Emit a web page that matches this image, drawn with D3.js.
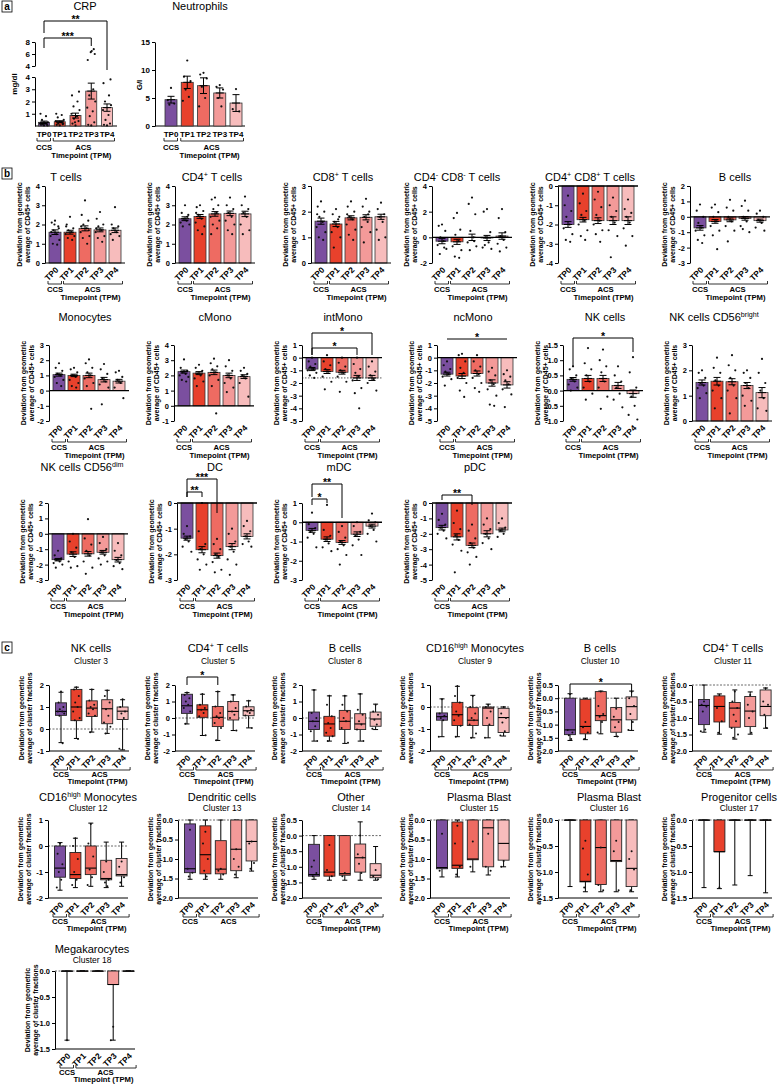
<!DOCTYPE html>
<html>
<head>
<meta charset="utf-8">
<script src="https://cdn.jsdelivr.net/npm/d3@7"></script>
<style>
body { margin: 0; background: #fff; }
svg { display: block; font-family: "Liberation Sans", Arial, sans-serif; }
</style>
</head>
<body>
<svg id="fig" width="783" height="1086"></svg>
<script>
// groups and colours
const groups = ["TP0", "TP1", "TP2", "TP3", "TP4"];
const fills = ["#7b4f9f", "#e8412c", "#ee6b62", "#f39a99", "#f7bcbc"];

// ---------- panel a ----------
const crpMean = [0.3, 0.35, 0.85, 2.85, 1.5];
const crpSem = [0.1, 0.08, 0.2, 0.65, 0.3];
const crpDots = [
  [0.05, 0.1, 0.1, 0.15, 0.2, 0.2, 0.3, 0.5, 0.8, 1.0, 0.05, 0.1],
  [0.05, 0.1, 0.15, 0.2, 0.3, 0.4, 0.5, 0.7, 0.9, 1.0, 0.2],
  [0.05, 0.2, 0.4, 0.6, 0.8, 1.0, 1.3, 1.6, 2.0, 2.5, 2.8, 0.3],
  [0.05, 0.1, 0.3, 0.8, 1.2, 1.5, 2.0, 2.5, 3.0, 5.0, 6.0, 6.3, 6.5, 6.8],
  [0.05, 0.1, 0.2, 0.5, 0.9, 1.3, 1.7, 2.0, 2.5, 3.5, 3.8]
];
const neuMean = [4.7, 7.8, 7.2, 5.9, 4.1];
const neuSem = [0.6, 1.1, 1.4, 0.9, 1.5];
const neuDots = [
  [6.8, 4.6, 4.0, 3.8],
  [11.7, 8.8, 8.0, 6.5, 5.2, 4.5],
  [9.5, 9.2, 8.5, 7.0, 5.0, 3.5],
  [7.3, 7.0, 6.5, 5.0, 3.5],
  [6.6, 3.0, 2.6]
];

// ---------- panel b ----------
const bTitles = ["T cells", "CD4^+^ T cells", "CD8^+^ T cells", "CD4^-^ CD8^-^ T cells", "CD4^+^ CD8^+^ T cells", "B cells",
  "Monocytes", "cMono", "intMono", "ncMono", "NK cells", "NK cells CD56^bright^",
  "NK cells CD56^dim^", "DC", "mDC", "pDC"];
const bDomains = [[0, 4], [0, 4], [0, 3], [-2, 4], [-4, 0], [-3, 2], [-2, 3], [-1, 4], [-5, 1], [-5, 1], [-1, 1.5], [0, 3], [-3, 2], [-3, 0], [-3, 1], [-5, 0]];
const bTicks = [[0, 1, 2, 3, 4], [0, 1, 2, 3, 4], [0, 1, 2, 3], [-2, 0, 2, 4], [-4, -3, -2, -1, 0], [-3, -2, -1, 0, 1, 2],
  [-2, -1, 0, 1, 2, 3], [-1, 0, 1, 2, 3, 4], [-5, -4, -3, -2, -1, 0, 1], [-5, -4, -3, -2, -1, 0, 1], [-1, -0.5, 0, 0.5, 1, 1.5], [0, 1, 2, 3],
  [-3, -2, -1, 0, 1, 2], [-3, -2, -1, 0], [-3, -2, -1, 0, 1], [-5, -4, -3, -2, -1, 0]];
const bDec = [0, 0, 0, 0, 0, 0, 0, 0, 0, 0, 1, 0, 0, 0, 0, 0];
const bMeans = [
  [1.6, 1.6, 1.8, 1.72, 1.7], [2.3, 2.42, 2.55, 2.58, 2.55], [1.63, 1.52, 1.76, 1.78, 1.8],
  [-0.3, -0.35, 0.0, -0.05, 0.1], [-2.0, -1.75, -1.8, -1.8, -1.8], [-0.72, -0.3, -0.2, -0.1, -0.25],
  [1.05, 1.0, 1.0, 0.72, 0.62], [2.25, 2.15, 2.2, 2.0, 1.92], [-0.9, -1.1, -1.15, -1.6, -1.6],
  [-1.3, -1.45, -1.25, -2.0, -2.15], [0.37, 0.4, 0.4, 0.17, -0.1], [1.52, 1.57, 1.55, 1.4, 1.12],
  [-1.68, -1.32, -1.3, -1.2, -1.68], [-1.37, -1.82, -2.05, -1.7, -1.3], [-0.42, -0.88, -1.05, -0.62, -0.2], [-1.6, -2.2, -2.75, -2.0, -1.75]
];
const bSems = [
  [0.12, 0.1, 0.13, 0.1, 0.12], [0.1, 0.1, 0.12, 0.12, 0.14], [0.12, 0.1, 0.08, 0.1, 0.1],
  [0.2, 0.2, 0.25, 0.2, 0.25], [0.15, 0.12, 0.15, 0.2, 0.2], [0.15, 0.12, 0.12, 0.12, 0.1],
  [0.1, 0.08, 0.15, 0.15, 0.12], [0.1, 0.1, 0.15, 0.15, 0.12], [0.12, 0.15, 0.15, 0.2, 0.2],
  [0.15, 0.2, 0.2, 0.25, 0.25], [0.06, 0.1, 0.1, 0.1, 0.12], [0.1, 0.15, 0.12, 0.12, 0.2],
  [0.08, 0.15, 0.15, 0.12, 0.15], [0.08, 0.12, 0.1, 0.12, 0.1], [0.1, 0.12, 0.1, 0.12, 0.1], [0.15, 0.2, 0.15, 0.2, 0.12]
];
const bDots = [
  [[2.2, 2.1, 1.9, 1.7, 1.5, 1.4, 1.2, 1.0, 0.95, 1.6, 1.8, 2.0], [2.4, 2.0, 1.8, 1.7, 1.6, 1.5, 1.4, 1.3, 1.2, 1.9], [3.25, 2.5, 2.2, 2.0, 1.8, 1.6, 1.4, 1.3, 1.0, 1.9, 1.7], [2.65, 2.3, 2.0, 1.9, 1.7, 1.6, 1.4, 1.3, 1.1, 1.8], [2.9, 2.0, 1.9, 1.8, 1.6, 1.5, 1.4, 1.2]],
  [[3.0, 2.6, 2.5, 2.3, 2.2, 2.1, 2.0, 1.9, 2.4], [3.0, 2.9, 2.7, 2.5, 2.3, 2.1, 1.9, 1.7, 1.5, 2.6], [3.4, 3.3, 3.0, 2.8, 2.6, 2.4, 2.2, 2.0, 1.8, 1.5], [3.4, 3.0, 2.8, 2.6, 2.4, 2.2, 2.0, 1.7, 1.5], [3.45, 3.0, 2.8, 2.6, 2.4, 2.0, 1.7, 1.5]],
  [[2.4, 2.2, 2.0, 1.8, 1.6, 1.4, 1.2, 1.0, 0.9, 1.9], [2.1, 1.9, 1.8, 1.6, 1.4, 1.2, 1.0, 0.6, 1.7], [2.4, 2.2, 2.0, 1.8, 1.7, 1.5, 1.3, 1.1, 0.9, 1.9], [2.5, 2.2, 2.0, 1.8, 1.6, 1.4, 1.2, 0.8, 1.9], [2.35, 2.1, 1.9, 1.8, 1.6, 1.3, 1.0, 0.9]],
  [[1.0, 0.9, 0.5, 0.0, -0.3, -0.6, -0.9, -1.3, -0.8], [1.9, 1.5, 0.6, 0.2, -0.3, -0.7, -1.0, -1.5, -1.6], [3.1, 2.6, 1.8, 0.5, 0.0, -0.4, -0.7, -1.0, -0.3], [2.2, 2.0, 0.4, 0.0, -0.4, -0.8, -0.9, -0.6], [2.2, 1.5, 0.4, 0.1, -0.2, -0.5, -0.8, -1.1]],
  [[-0.5, -1.0, -1.3, -1.6, -2.0, -2.2, -2.5, -2.8, -2.9], [-0.4, -0.9, -1.3, -1.5, -1.8, -2.0, -2.3, -2.6, -2.8], [-0.3, -0.7, -1.1, -1.5, -1.8, -2.0, -2.3, -2.5, -2.9], [-0.6, -1.0, -1.3, -1.6, -1.9, -2.3, -2.6, -3.7], [-0.7, -1.2, -1.4, -1.6, -1.9, -2.2, -2.6, -3.1]],
  [[0.8, 0.4, 0.0, -0.4, -0.7, -0.9, -1.2, -1.5, -1.7], [0.8, 0.6, 0.3, 0.0, -0.3, -0.6, -0.9, -1.2, -2.1], [1.1, 0.6, 0.4, 0.0, -0.3, -0.6, -0.9, -1.6], [1.05, 0.7, 0.4, 0.0, -0.3, -0.6, -1.0, -0.8], [0.4, 0.2, 0.0, -0.2, -0.4, -0.7, -0.9]],
  [[1.8, 1.5, 1.3, 1.1, 1.0, 0.9, 0.7, 0.5, 0.3], [1.5, 1.4, 1.2, 1.0, 0.9, 0.7, 0.5, 0.3, 0.2], [2.05, 1.8, 1.5, 1.2, 1.0, 0.8, 0.5, 0.3, -1.2], [1.75, 1.4, 1.1, 0.8, 0.6, 0.4, 0.2, -0.9], [1.3, 1.2, 0.9, 0.7, 0.5, 0.2, -0.5]],
  [[3.05, 2.5, 2.3, 2.2, 2.1, 2.0, 1.9, 1.7, 1.6], [2.7, 2.5, 2.3, 2.1, 2.0, 1.8, 1.6, 1.3], [3.1, 2.8, 2.6, 2.4, 2.2, 2.0, 1.7, 1.3, -0.5], [3.0, 2.6, 2.3, 2.0, 1.8, 1.5, 1.2, 0.9], [2.5, 2.3, 2.1, 2.0, 1.8, 1.5, 0.6]],
  [[0.0, -0.3, -0.5, -0.7, -0.9, -1.0, -1.2, -1.4, -1.6], [0.2, -0.3, -0.6, -0.9, -1.1, -1.5, -1.9, -2.5], [0.0, -0.4, -0.7, -1.0, -1.2, -1.5, -1.9, -2.7], [0.0, -0.5, -0.9, -1.2, -1.5, -1.8, -2.4, -2.8, -4.0], [-0.3, -0.7, -1.1, -1.4, -1.7, -2.0, -2.6]],
  [[-0.3, -0.6, -0.9, -1.1, -1.3, -1.5, -1.7, -2.2], [0.3, 0.2, -0.3, -0.8, -1.2, -1.6, -2.0, -2.6, -3.1], [0.2, -0.3, -0.7, -1.0, -1.3, -1.6, -2.0, -2.4, -2.7], [-0.8, -1.1, -1.4, -1.8, -2.1, -2.5, -3.0, -3.7, -3.8], [-1.0, -1.3, -1.5, -1.8, -2.1, -2.5, -2.9, -3.9]],
  [[0.8, 0.7, 0.5, 0.4, 0.3, 0.2, 0.1, 0.0], [1.4, 0.9, 0.7, 0.5, 0.3, 0.1, -0.1, -0.3], [1.35, 1.0, 0.8, 0.6, 0.3, 0.1, -0.2, -0.6], [0.8, 0.5, 0.3, 0.1, -0.1, -0.3, -0.55], [1.1, 0.6, 0.1, -0.2, -0.5, -0.8, -0.95]],
  [[2.0, 1.9, 1.7, 1.5, 1.4, 1.3, 1.1, 0.9], [2.5, 2.1, 1.9, 1.6, 1.4, 1.2, 0.9, 0.5], [2.6, 2.2, 2.0, 1.7, 1.4, 1.2, 0.9, 0.3], [2.0, 1.9, 1.7, 1.5, 1.3, 1.0, 0.8, 0.6], [2.45, 1.9, 1.5, 1.2, 0.9, 0.5, 0.4]],
  [[-1.1, -1.4, -1.6, -1.7, -1.8, -1.9, -2.0, -2.2], [0.0, -0.5, -0.9, -1.2, -1.5, -1.8, -2.1, -2.2], [0.95, -0.3, -0.7, -1.1, -1.4, -1.8, -2.2, -2.6], [-0.2, -0.6, -1.0, -1.2, -1.4, -1.6, -1.8, -2.0], [-0.6, -1.1, -1.4, -1.7, -1.9, -2.1, -2.3]],
  [[-0.9, -1.2, -1.3, -1.4, -1.5, -1.7, -1.9], [0.0, -1.1, -1.6, -1.8, -2.0, -2.2, -2.4, -2.6], [-1.4, -1.6, -1.8, -2.0, -2.1, -2.3, -2.6, -2.7], [-1.0, -1.2, -1.5, -1.7, -1.9, -2.2, -2.4, -2.8], [-0.7, -0.9, -1.1, -1.3, -1.5, -1.6, -1.7]],
  [[0.5, -0.1, -0.3, -0.5, -0.6, -0.8, -1.3], [0.9, -0.4, -0.7, -0.9, -1.1, -1.3, -1.5], [-0.2, -0.5, -0.8, -1.0, -1.2, -1.4, -1.7, -2.2], [0.0, -0.2, -0.5, -0.7, -0.9, -1.2, -1.7], [0.45, 0.1, 0.0, -0.2, -0.4, -0.6, -1.0]],
  [[-0.7, -1.1, -1.4, -1.6, -1.8, -2.0, -2.3], [-0.5, -1.3, -1.7, -2.1, -2.4, -2.7, -3.1, -4.5], [-1.4, -1.8, -2.3, -2.6, -2.9, -3.2, -3.5, -4.0], [-1.0, -1.4, -1.7, -2.0, -2.3, -2.6, -3.0], [-1.0, -1.3, -1.6, -1.8, -2.0, -2.2]]
];
// dotted reference line (intMono)
const bRefPanel = [8];
const bRefValue = [-1.6];

// ---------- panel c ----------
const cTitles = ["NK cells", "CD4^+^ T cells", "B cells", "CD16^high^ Monocytes", "B cells", "CD4^+^ T cells",
  "CD16^high^ Monocytes", "Dendritic cells", "Other", "Plasma Blast", "Plasma Blast", "Progenitor cells", "Megakarocytes"];
const cClusters = ["Cluster 3", "Cluster 5", "Cluster 8", "Cluster 9", "Cluster 10", "Cluster 11",
  "Cluster 12", "Cluster 13", "Cluster 14", "Cluster 15", "Cluster 16", "Cluster 17", "Cluster 18"];
const cDomains = [[-1, 2], [-2, 2], [-2, 2], [-2, 1], [-2, 0.5], [-2, 0], [-2, 1], [-2, 0], [-2, 0.5], [-2, 0], [-1.5, 0], [-1.5, 0], [-1.5, 0]];
const cTicks = [[-1, 0, 1, 2], [-2, -1, 0, 1, 2], [-2, -1, 0, 1, 2], [-2, -1, 0, 1], [-2, -1.5, -1, -0.5, 0, 0.5], [-2, -1.5, -1, -0.5, 0],
  [-2, -1, 0, 1], [-2, -1.5, -1, -0.5, 0], [-2, -1.5, -1, -0.5, 0, 0.5], [-2, -1.5, -1, -0.5, 0], [-1.5, -1, -0.5, 0], [-1.5, -1, -0.5, 0], [-1.5, -1, -0.5, 0]];
const cDec = [0, 0, 0, 0, 1, 1, 0, 1, 1, 1, 1, 1, 1];
// per group: [min, q1, median, q3, max]
const cBoxes = [
  [[-0.62, 0.62, 0.8, 1.19, 1.67], [-0.43, 0.38, 1.0, 1.8, 1.9], [-0.14, 0.57, 0.95, 1.28, 1.8], [-0.2, 0.24, 0.92, 1.33, 1.76], [-0.95, 0.43, 0.81, 1.0, 1.33]],
  [[-0.36, 0.28, 0.74, 1.44, 1.54], [-1.06, 0.04, 0.5, 0.8, 1.44], [-1.36, -0.52, 0.04, 0.7, 1.6], [-0.76, -0.12, 0.4, 1.0, 1.4], [-0.6, 0.14, 0.44, 0.68, 1.04]],
  [[-1.4, -0.7, -0.2, 0.36, 1.7], [-1.4, -1.1, -0.36, 0.1, 1.34], [-1.54, -0.7, -0.2, 0.46, 1.34], [-1.4, -0.7, -0.36, 0.26, 1.46], [-0.7, -0.5, -0.06, 0.36, 0.84]],
  [[-1.35, -0.6, -0.44, -0.27, 0.37], [-1.35, -0.84, -0.35, 0.21, 0.94], [-1.4, -0.84, -0.6, -0.03, 0.53], [-1.4, -0.84, -0.05, 0.0, 0.13], [-1.32, -1.16, -0.48, -0.06, 0.0]],
  [[-1.6, -1.38, -1.2, 0.0, 0.17], [-1.57, -1.35, -1.07, -0.04, 0.0], [-1.35, -0.85, -0.66, 0.25, 0.27], [-1.45, -1.29, -0.82, -0.35, 0.0], [-1.22, -0.82, -0.32, 0.05, 0.27]],
  [[-1.43, -1.2, -0.62, -0.44, 0.0], [-1.49, -1.12, -0.65, -0.33, -0.27], [-1.64, -1.28, -0.7, -0.53, -0.15], [-1.49, -1.26, -0.79, -0.35, -0.21], [-1.31, -0.93, -0.65, -0.15, -0.09]],
  [[-1.7, -1.2, -0.85, 0.0, 0.13], [-1.6, -1.25, -1.1, -0.25, 0.3], [-1.55, -1.1, -0.85, 0.0, 0.88], [-1.6, -1.3, -1.25, -0.55, 0.15], [-1.55, -1.15, -1.1, -0.48, 0.15]],
  [[-1.52, -1.35, -1.25, -0.1, 0.0], [-1.52, -1.38, -0.89, -0.15, 0.0], [-1.52, -1.38, -1.26, -0.53, 0.0], [-1.48, -1.3, -0.75, 0.0, 0.0], [-1.31, -1.05, -0.55, 0.0, 0.0]],
  [[-1.4, -1.3, -1.25, -0.28, 0.0], [-1.43, -1.3, -1.17, 0.0, 0.0], [-1.43, -1.27, -1.22, 0.0, 0.0], [-1.43, -1.17, -0.71, -0.27, 0.44], [-1.43, -1.35, -1.27, -0.9, -0.35]],
  [[-1.46, -1.25, -1.22, 0.0, 0.0], [-1.46, -1.24, -1.16, -0.05, 0.0], [-1.33, -1.02, -1.0, 0.0, 0.0], [-1.41, -1.2, -0.2, 0.0, 0.0], [-1.2, -1.03, -0.6, 0.0, 0.0]],
  [[-1.28, 0, 0, 0, 0], [-1.38, -1.19, -1.18, 0, 0], [-1.38, -1.24, -0.53, 0, 0], [-1.38, -0.8, -0.78, 0, 0], [-1.38, -1.28, -0.93, 0, 0]],
  [[-1.3, 0, 0, 0, 0], [-1.32, -0.61, -0.61, 0, 0], [-1.25, 0, 0, 0, 0], [-1.07, 0, 0, 0, 0], [-1.4, 0, 0, 0, 0]],
  [[-1.33, 0, 0, 0, 0], [0, 0, 0, 0, 0], [0, 0, 0, 0, 0], [-1.33, -0.26, -0.26, 0, 0], [0, 0, 0, 0, 0]]
];
const cDots = [
  [[1.7, 1.2, 1.0, 0.9, 0.8, 0.8, 0.7, 0.6, -0.65], [1.9, 1.8, 1.5, 1.2, 1.0, 0.8, 0.5, 0.4, -0.45], [1.8, 1.3, 1.1, 1.0, 0.9, 0.7, 0.6, -0.15], [1.75, 1.5, 1.2, 0.9, 0.6, 0.3, 0.1, -0.2], [1.35, 1.0, 0.8, 0.7, 0.5, -0.9]],
  [[1.55, 1.4, 1.2, 1.0, 0.8, 0.6, 0.4, -0.35], [1.45, 0.8, 0.6, 0.5, 0.3, 0.1, -1.05], [1.6, 0.7, 0.3, 0.1, 0.0, -0.3, -0.6, -1.35], [1.4, 1.0, 0.6, 0.4, 0.2, 0.0, -0.75], [1.05, 0.7, 0.5, 0.4, 0.3, 0.15, -0.6]],
  [[1.7, 0.3, 0.0, -0.2, -0.5, -0.8, -1.4], [1.35, 0.8, 0.1, -0.3, -0.6, -0.9, -1.1, -1.4], [1.35, 0.8, 0.4, 0.0, -0.2, -0.6, -1.5], [1.45, 0.5, 0.2, -0.2, -0.4, -0.7, -1.4], [0.8, 0.4, 0.2, -0.1, -0.4, -0.65]],
  [[0.35, -0.3, -0.4, -0.5, -0.6, -1.35], [0.95, 0.5, 0.2, -0.2, -0.4, -0.6, -0.85, -1.35], [0.5, 0.0, -0.3, -0.5, -0.6, -0.8, -1.2, -1.4], [0.1, 0.0, -0.2, -0.5, -0.8, -1.4], [0.0, -0.3, -0.5, -0.7, -1.1, -1.3]],
  [[0.15, -1.2, -1.3, -1.4, -1.55], [-0.9, -1.1, -1.3, -1.55], [0.25, -0.3, -0.6, -0.7, -0.9, -1.3], [-0.4, -0.7, -0.9, -1.1, -1.45], [0.25, 0.0, -0.3, -0.6, -0.9, -1.2]],
  [[-0.5, -0.6, -0.65, -0.8, -1.35, -1.4], [-0.3, -0.7, -1.1, -1.45], [-0.2, -0.5, -0.7, -0.9, -1.1, -1.3, -1.5, -1.6], [-0.3, -0.6, -0.8, -1.0, -1.45], [-0.1, -0.5, -0.6, -0.9, -1.3]],
  [[0.1, -0.3, -0.7, -1.0, -1.3, -1.6], [0.3, 0.0, -0.5, -1.0, -1.3, -1.5], [0.85, 0.1, -0.4, -0.9, -1.2, -1.5], [-0.6, -1.0, -1.3, -1.4, -1.55], [-0.6, -0.8, -1.2, -1.4]],
  [[-0.25, -1.25, -1.35, -1.45], [-0.3, -0.6, -1.0, -1.3, -1.45], [-1.25, -1.3, -1.4], [-0.75, -1.0, -1.2, -1.4], [-0.55, -0.6, -1.1, -1.25]],
  [[-0.8, -1.0, -1.2, -1.3], [-0.3, -1.1, -1.3], [-1.2, -1.3], [0.0, -0.6, -0.7, -0.9, -1.2], [-1.1, -1.3, -1.4]],
  [[-0.35, -1.3], [-0.15, -0.6, -1.2, -1.4], [-0.55, -1.2], [-0.35, -1.2, -1.3], [-1.05, -1.2]],
  [[], [-0.4, -0.55, -1.05, -1.3], [-0.53, -1.25, -1.35], [-0.4, -0.6, -1.35], [-0.6, -0.75, -0.95, -1.35]],
  [[], [-1.3], [], [], []],
  [[-1.33], [], [], [-1.07, -1.33], []]
];

// ---------- layout ----------
const bAxisX = [45, 175, 311, 432, 558, 690, 49, 174, 302, 437, 563, 692, 48, 177, 302, 432];
const bTitleX = [66, 212, 343, 457, 590, 735, 85, 215, 343, 473, 605, 714, 82, 215, 339, 475];
const bRowTop = [186, 345, 503], bRowBottom = [263, 421, 580], bTitleY = [181, 321, 471];
// significance: panel, from, to, label, bracket y / leg ends (px from plot top)
const bSigs = [
  [8, 0, 4, "*", -12, 10, 10], [8, 0, 3, "*", 3, 10, 10],
  [9, 0, 4, "*", -6, -6, -6],
  [10, 0, 4, "*", -7, 22, 7],
  [13, 0, 2, "***", -24, -6, 10], [13, 0, 1, "**", -11, -6, -6],
  [14, 0, 2, "**", -19, -6, 15], [14, 0, 1, "*", -4, 2, 0],
  [15, 0, 2, "**", -8, -3, 2]
];
const cAxisX = [49, 175, 302, 430, 558, 692, 48, 178, 302, 430, 558, 692, 55];
const cTitleX = [91, 218, 345, 475, 600, 733, 88, 222, 351, 479, 609, 739, 92];
const cRowTop = [685, 820, 971], cRowBottom = [751, 898, 1049];
const cTitleY = [652, 801, 953], cClusterY = [664, 811, 963];
const cSigs = [[1, 0, 2, "*", -8, 0, 0], [4, 0, 4, "*", -1, 8, 8]];

const svg = d3.select("#fig");
const jit = [0, -3, 3, -1.5, 1.5, -4, 4, -2, 2, -3.5, 3.5, -0.5, 0.5, 2.5];

// text with ^sup^ parts
function rich(text, str) {
  let shifted = 0;
  str.split("^").forEach(function(s, i) {
    if (!s) return;
    const t = text.append("tspan").text(s);
    if (i % 2 === 1) {
      t.attr("font-size", "65%").attr("dy", -4);
      shifted = 4;
    } else if (shifted) {
      t.attr("dy", shifted);
      shifted = 0;
    }
  });
}

function fmt(dec) {
  return function(d) { return dec ? d.toFixed(1) : String(d); };
}

function yAxis(g, y, ax, ticks, f, fs) {
  const a = d3.axisLeft(y).tickValues(ticks).tickSize(3).tickSizeOuter(0).tickPadding(2).tickFormat(f);
  const s = g.append("g").attr("transform", "translate(" + ax + ",0)").call(a);
  s.select(".domain").attr("stroke", "#000").attr("stroke-width", 1);
  s.selectAll(".tick line").attr("stroke", "#000");
  s.selectAll(".tick text").attr("fill", "#000").style("font-weight", "bold").style("font-size", fs + "px");
}

function yLabel(g, lines, x, yc) {
  lines.forEach(function(l, i) {
    g.append("text")
      .attr("transform", "translate(" + (x + i * 8) + "," + yc + ") rotate(-90)")
      .attr("text-anchor", "middle")
      .style("font-weight", "bold").style("font-size", "7px")
      .text(l);
  });
}

function title(g, str, x, y, fs) {
  const t = g.append("text").attr("x", x).attr("y", y).attr("text-anchor", "middle").style("font-size", fs + "px");
  rich(t, str);
}

// TP labels + CCS/ACS brackets under a plot
function xLabels(g, x, bottom, rotated, withTime, off) {
  groups.forEach(function(gr) {
    if (rotated) {
      g.append("text")
        .attr("transform", "translate(" + (x(gr) + 4) + "," + (bottom + 7.5) + ") rotate(-45)")
        .attr("text-anchor", "end")
        .style("font-weight", "bold").style("font-size", "8.3px")
        .text(gr);
    } else {
      g.append("text").attr("x", x(gr)).attr("y", bottom + 11)
        .attr("text-anchor", "middle")
        .style("font-weight", "bold").style("font-size", "8px")
        .text(gr);
    }
  });
  const x0 = x("TP0"), x1 = x("TP1"), x4 = x("TP4");
  const by = bottom + off[0];
  g.append("path").attr("d", "M" + (x0 - 7) + "," + (by - 3) + "V" + by + "H" + (x0 + 6.5) + "V" + (by - 3))
    .attr("fill", "none").attr("stroke", "#000").attr("stroke-width", 0.8);
  g.append("path").attr("d", "M" + (x1 - 6.5) + "," + (by - 3) + "V" + by + "H" + (x4 + 7.5) + "V" + (by - 3))
    .attr("fill", "none").attr("stroke", "#000").attr("stroke-width", 0.8);
  g.append("text").attr("x", x0).attr("y", bottom + off[1]).attr("text-anchor", "middle")
    .style("font-weight", "bold").style("font-size", "7.7px").text("CCS");
  g.append("text").attr("x", (x1 + x4) / 2).attr("y", bottom + off[1]).attr("text-anchor", "middle")
    .style("font-weight", "bold").style("font-size", "7.7px").text("ACS");
  if (withTime) {
    g.append("text").attr("x", (x1 + x4) / 2 - 2).attr("y", bottom + off[2]).attr("text-anchor", "middle")
      .style("font-weight", "bold").style("font-size", "7.7px").text("Timepoint (TPM)");
  }
}

function sig(g, x, top, s) {
  const xa = x(groups[s[1]]), xb = x(groups[s[2]]), yb = top + s[4];
  g.append("path")
    .attr("d", "M" + xa + "," + (top + s[5]) + "V" + yb + "H" + xb + "V" + (top + s[6]))
    .attr("fill", "none").attr("stroke", "#000").attr("stroke-width", 1);
  g.append("text").attr("x", (xa + xb) / 2).attr("y", yb + 1.5).attr("text-anchor", "middle")
    .style("font-weight", "bold").style("font-size", "10.5px").text(s[3]);
}

function barMarks(g, x, y, means, sems, dots, bw) {
  const y0 = y(0);
  g.selectAll(null).data(means).join("rect")
    .attr("x", function(d, i) { return x(groups[i]) - bw / 2; })
    .attr("y", function(d) { return Math.min(y0, y(d)); })
    .attr("width", bw)
    .attr("height", function(d) { return Math.abs(y(d) - y0); })
    .attr("fill", function(d, i) { return fills[i]; })
    .attr("stroke", "#333").attr("stroke-width", 0.8);
  dots.forEach(function(arr, i) {
    g.selectAll(null).data(arr).join("circle")
      .attr("cx", function(d, j) { return x(groups[i]) + jit[j % jit.length] * bw / 11; })
      .attr("cy", function(d) { return y(d); })
      .attr("r", 1.1).attr("fill", "#111");
  });
  means.forEach(function(m, i) {
    const cx = x(groups[i]), lo = y(m - sems[i]), hi = y(m + sems[i]);
    g.append("path")
      .attr("d", "M" + cx + "," + lo + "V" + hi + "M" + (cx - 3.5) + "," + lo + "H" + (cx + 3.5) + "M" + (cx - 3.5) + "," + hi + "H" + (cx + 3.5) + "M" + (cx - 4) + "," + y(m) + "H" + (cx + 4))
      .attr("stroke", "#000").attr("stroke-width", 1).attr("fill", "none");
  });
}

// ---------- draw panel a ----------
function panelLetter(ch, x, y) {
  svg.append("rect").attr("x", x).attr("y", y).attr("width", 10).attr("height", 11)
    .attr("fill", "none").attr("stroke", "#000").attr("stroke-width", 0.8);
  svg.append("text").attr("x", x + 5).attr("y", y + 8.5).attr("text-anchor", "middle")
    .style("font-weight", "bold").style("font-size", "10px").text(ch);
}
panelLetter("a", 2, 1);
panelLetter("b", 2, 168);
panelLetter("c", 2, 642);

(function() {
  const g = svg.append("g");
  // CRP with broken axis
  const ax = 35, bottom = 126;
  const yLow = d3.scaleLinear().domain([0, 4]).range([bottom, 77]);
  const yHigh = d3.scaleLinear().domain([4, 8]).range([66, 42]);
  const y = function(v) { return v <= 4 ? yLow(v) : yHigh(v); };
  const x = d3.scalePoint().domain(groups).range([ax + 9, ax + 9 + 4 * 15.75]);
  yAxis(g, yLow, ax, [1, 2, 3, 4], fmt(0), 8);
  yAxis(g, yHigh, ax, [4, 6, 8], fmt(0), 8);
  g.append("line").attr("x1", ax).attr("x2", ax + 82).attr("y1", bottom).attr("y2", bottom).attr("stroke", "#000");
  barMarks(g, x, y, crpMean, crpSem, crpDots, 11);
  xLabels(g, x, bottom, false, true, [15, 24, 32]);
  title(g, "CRP", 85, 10, 11);
  g.append("text").attr("transform", "translate(17,84) rotate(-90)").attr("text-anchor", "middle")
    .style("font-weight", "bold").style("font-size", "8px").text("mg/dl");
  sig(g, x, 42, [0, 0, 4, "**", -21, -9, 28]);
  sig(g, x, 42, [0, 0, 3, "***", -4, 6, 4]);

  // Neutrophils
  const ax2 = 155;
  const y2 = d3.scaleLinear().domain([0, 15]).range([bottom, 42]);
  const x2 = d3.scalePoint().domain(groups).range([ax2 + 16, ax2 + 16 + 4 * 16.25]);
  yAxis(g, y2, ax2, [0, 5, 10, 15], fmt(0), 8);
  g.append("line").attr("x1", ax2).attr("x2", ax2 + 90).attr("y1", bottom).attr("y2", bottom).attr("stroke", "#000");
  barMarks(g, x2, y2, neuMean, neuSem, neuDots, 12);
  xLabels(g, x2, bottom, false, true, [15, 24, 32]);
  title(g, "Neutrophils", 200, 10, 11);
  g.append("text").attr("transform", "translate(142,85) rotate(-90)").attr("text-anchor", "middle")
    .style("font-weight", "bold").style("font-size", "8px").text("G/l");
})();

// ---------- draw panel b ----------
bTitles.forEach(function(t, i) {
  const r = Math.floor(i / 6), ax = bAxisX[i], top = bRowTop[r], bottom = bRowBottom[r];
  const g = svg.append("g");
  const y = d3.scaleLinear().domain(bDomains[i]).range([bottom, top]);
  const x = d3.scalePoint().domain(groups).range([ax + 10, ax + 10 + 4 * 15]);
  const refIdx = bRefPanel.indexOf(i);
  if (refIdx >= 0) {
    g.append("line").attr("x1", ax).attr("x2", ax + 80).attr("y1", y(bRefValue[refIdx])).attr("y2", y(bRefValue[refIdx]))
      .attr("stroke", "#333").attr("stroke-dasharray", "1.5,1.5").attr("stroke-width", 0.8);
  }
  barMarks(g, x, y, bMeans[i], bSems[i], bDots[i], 12);
  yAxis(g, y, ax, bTicks[i], fmt(bDec[i]), 7.5);
  g.append("line").attr("x1", ax).attr("x2", ax + 80).attr("y1", y(0)).attr("y2", y(0))
    .attr("stroke", "#000").attr("stroke-width", bDomains[i][0] < 0 ? 1.3 : 1);
  xLabels(g, x, bottom, true, true, [21, 28.5, 36.5]);
  title(g, t, bTitleX[i], bTitleY[r], 11);
  yLabel(g, ["Deviation from geometric", "average of CD45+ cells"], ax - 23, (top + bottom) / 2);
  bSigs.filter(function(s) { return s[0] === i; }).forEach(function(s) { sig(g, x, top, s); });
});

// ---------- draw panel c ----------
cTitles.forEach(function(t, i) {
  const r = i < 6 ? 0 : (i < 12 ? 1 : 2), ax = cAxisX[i], top = cRowTop[r], bottom = cRowBottom[r];
  const g = svg.append("g");
  const y = d3.scaleLinear().domain(cDomains[i]).range([bottom, top]);
  const x = d3.scalePoint().domain(groups).range([ax + 12, ax + 12 + 4 * 15.4]);
  const bw = 11;
  g.append("line").attr("x1", ax).attr("x2", ax + 80).attr("y1", y(0)).attr("y2", y(0))
    .attr("stroke", "#444").attr("stroke-dasharray", "2,1.5").attr("stroke-width", 0.8);
  cBoxes[i].forEach(function(b, k) {
    const cx = x(groups[k]);
    g.append("path")
      .attr("d", "M" + cx + "," + y(b[0]) + "V" + y(b[1]) + "M" + cx + "," + y(b[3]) + "V" + y(b[4]) +
        "M" + (cx - 2.5) + "," + y(b[0]) + "H" + (cx + 2.5) + "M" + (cx - 2.5) + "," + y(b[4]) + "H" + (cx + 2.5))
      .attr("stroke", "#000").attr("stroke-width", 1).attr("fill", "none");
    g.append("rect").attr("x", cx - bw / 2).attr("y", y(b[3])).attr("width", bw)
      .attr("height", Math.max(0.5, y(b[1]) - y(b[3])))
      .attr("fill", fills[k]).attr("stroke", "#222").attr("stroke-width", 0.9);
    g.append("line").attr("x1", cx - bw / 2).attr("x2", cx + bw / 2).attr("y1", y(b[2])).attr("y2", y(b[2]))
      .attr("stroke", "#000").attr("stroke-width", 1.1);
    g.selectAll(null).data(cDots[i][k]).join("circle")
      .attr("cx", function(d, j) { return cx + jit[j % jit.length] * 0.8; })
      .attr("cy", function(d) { return y(d); })
      .attr("r", 1).attr("fill", "#111");
  });
  yAxis(g, y, ax, cTicks[i], fmt(cDec[i]), 7.5);
  g.append("line").attr("x1", ax).attr("x2", ax + 80).attr("y1", bottom).attr("y2", bottom).attr("stroke", "#000");
  xLabels(g, x, bottom, true, i !== 7, [19, 25.5, 32.5]);
  title(g, t, cTitleX[i], cTitleY[r], 11);
  g.append("text").attr("x", cTitleX[i]).attr("y", cClusterY[r]).attr("text-anchor", "middle")
    .style("font-size", "8.5px").text(cClusters[i]);
  yLabel(g, ["Deviation from geometric", "average of cluster fractions"], ax - 25, (top + bottom) / 2);
  cSigs.filter(function(s) { return s[0] === i; }).forEach(function(s) { sig(g, x, top, s); });
});
</script>
</body>
</html>
